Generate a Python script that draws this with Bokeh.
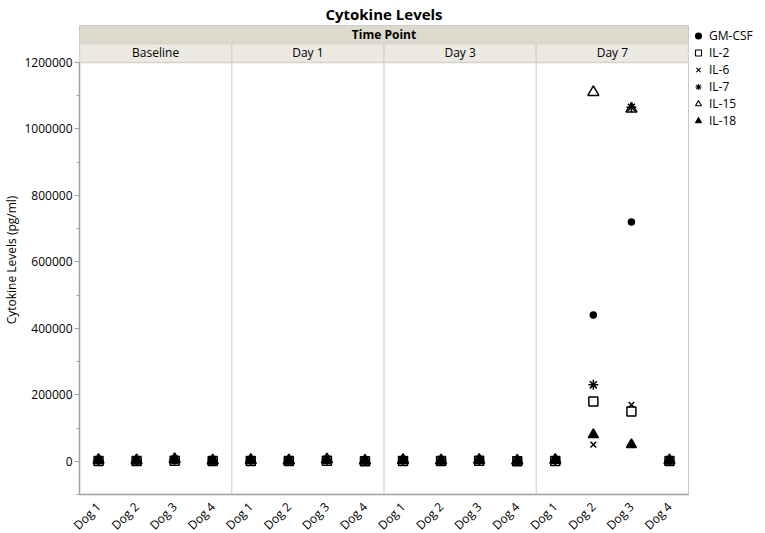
import math
import numpy as np
from bokeh.plotting import figure
from bokeh.models import FixedTicker, Legend, LegendItem, ColumnDataSource
from bokeh.core.properties import value
from bokeh.embed import file_html
from bokeh.resources import INLINE

time_points = ["Baseline", "Day 1", "Day 3", "Day 7"]
dogs = ["Dog 1", "Dog 2", "Dog 3", "Dog 4"]
cytokines = ["GM-CSF", "IL-2", "IL-6", "IL-7", "IL-15", "IL-18"]

# values in order: Baseline Dog1-4, Day 1 Dog1-4, Day 3 Dog1-4, Day 7 Dog1-4
gm_csf = [1500, 900, 2500, 700, 1200, 800, 2000, 600, 1400, 700, 1500, 500, 1600, 440000, 720000, 900]
il_2 = [1000, 600, 1800, 500, 900, 500, 1500, 400, 1000, 500, 1200, 400, 1100, 180000, 150000, 700]
il_6 = [800, 500, 1500, 400, 700, 400, 1200, 300, 800, 400, 1000, 300, 900, 50000, 170000, 500]
il_7 = [3000, 2000, 5000, 1500, 2500, 1800, 4500, 1400, 2600, 1600, 3000, 1200, 3200, 230000, 1065000, 2000]
il_15 = [4000, 2500, 6000, 2000, 3500, 2200, 5500, 1800, 3600, 2000, 4000, 1500, 4200, 1110000, 1060000, 2600]
il_18 = [2000, 1500, 4000, 1200, 1800, 1300, 3500, 1000, 1900, 1200, 2400, 900, 2500, 80000, 50000, 1500]

y_ticks = [0, 200000, 400000, 600000, 800000, 1000000, 1200000]

FONT = "Open Sans"
Y_MIN, Y_MAX = -100000, 1200000
SUB_TOP = 1257000
Y_END = 1311000

p = figure(width=749, height=525, x_range=(0, 16), y_range=(Y_MIN, Y_END),
           output_backend="svg", toolbar_location=None,
           frame_width=609, frame_height=469,
           min_border_left=60, min_border_right=60, min_border_top=0, min_border_bottom=0,
           title="Cytokine Levels")
p.title.align = "center"
p.title.text_font = FONT
p.title.text_font_size = "15px"
p.title.text_font_style = "bold"
p.title.text_color = "black"
p.title.standoff = 3
p.title.offset = 0

p.xgrid.visible = False
p.ygrid.visible = False
p.outline_line_color = "#c8c8c8"
p.background_fill_color = "white"

# headers
sub_left = [i * 4 for i in range(len(time_points))]
sub_right = [i * 4 + 4 for i in range(len(time_points))]
sub_x = [i * 4 + 2 for i in range(len(time_points))]
p.quad(left=[0], right=[16], bottom=[SUB_TOP], top=[Y_END], fill_color="#dcdacd", line_color="#d0cec0")
p.quad(left=sub_left, right=sub_right, bottom=[Y_MAX] * 4, top=[SUB_TOP] * 4,
       fill_color="#ebe9e1", line_color="#d6d4c9", line_width=1.5)
p.text(x=[8], y=[(SUB_TOP + Y_END) / 2], text=["Time Point"], text_align="center",
       text_baseline="middle", text_font=value(FONT), text_font_size="12px",
       text_font_style="bold", text_color="black")
p.text(x=sub_x, y=[(Y_MAX + SUB_TOP) / 2] * 4, text=time_points, text_align="center",
       text_baseline="middle", text_font=value(FONT), text_font_size="12px", text_color="black")

# panel separators
p.segment(x0=[4, 8, 12], y0=[Y_MIN] * 3, x1=[4, 8, 12], y1=[Y_MAX] * 3,
          line_color="#dcdcdc", line_width=1.5)

xs = [t * 4 + d + 0.5 for t in range(len(time_points)) for d in range(len(dogs))]

series = [
    ("GM-CSF", gm_csf, "circle", 6, "black"),
    ("IL-2", il_2, "square", 9, None),
    ("IL-6", il_6, "x", 8, None),
    ("IL-7", il_7, "asterisk", 10, None),
    ("IL-15", il_15, "triangle", 11, None),
    ("IL-18", il_18, "triangle", 10, "black"),
]
items = []
for name, vals, marker, size, fill in series:
    src = ColumnDataSource(dict(x=xs, y=vals))
    p.scatter("x", "y", source=src, marker=marker, size=size,
              line_color="black", line_width=1.5, fill_color=fill)
    # legend-only renderer (a single non-plotted point) with thinner strokes
    lsrc = ColumnDataSource(dict(x=np.array([np.nan]), y=np.array([np.nan])))
    lr = p.scatter("x", "y", source=lsrc, marker=marker, size=size,
                   line_color="black", line_width=1.1, fill_color=fill)
    items.append(LegendItem(label=name, renderers=[lr]))

legend = Legend(items=items, location="top_left")
legend.label_text_font = FONT
legend.label_text_font_size = "12px"
legend.label_text_color = "black"
legend.label_height = 15
legend.glyph_height = 15
legend.glyph_width = 16
legend.spacing = 0
legend.padding = 0
legend.margin = 2
legend.label_standoff = 3
legend.border_line_color = None
legend.background_fill_alpha = 0
p.add_layout(legend, "right")

# axes
ya = p.yaxis[0]
ya.ticker = FixedTicker(ticks=y_ticks, minor_ticks=[-100000, 100000, 300000, 500000, 700000, 900000, 1100000])
ya.bounds = (Y_MIN, Y_MAX)
ya.axis_label = "Cytokine Levels (pg/ml)"
ya.axis_label_text_font = FONT
ya.axis_label_text_font_size = "12px"
ya.axis_label_text_font_style = "normal"
ya.axis_label_text_color = "black"
ya.axis_label_standoff = 1
ya.major_label_standoff = 2
ya.major_label_text_font = FONT
ya.major_label_text_font_size = "12px"
ya.major_label_text_color = "black"
ya.axis_line_color = "#a0a0a0"
ya.axis_line_width = 1.5
ya.major_tick_line_color = "#a0a0a0"
ya.minor_tick_line_color = "#a0a0a0"
ya.major_tick_out = 5
ya.major_tick_in = 0
ya.minor_tick_out = 3
ya.minor_tick_in = 0
ya.formatter.use_scientific = False

xa = p.xaxis[0]
xa.ticker = FixedTicker(ticks=xs)
xa.major_label_overrides = {x: dogs[i % 4] for i, x in enumerate(xs)}
xa.major_label_orientation = math.pi / 4
xa.major_label_text_font = FONT
xa.major_label_text_font_size = "12px"
xa.major_label_text_color = "black"
xa.axis_line_color = "#a0a0a0"
xa.axis_line_width = 1.5
xa.major_tick_line_color = None
xa.minor_tick_line_color = None
xa.major_label_standoff = 4

open("out.html", "w").write(file_html(p, INLINE))
